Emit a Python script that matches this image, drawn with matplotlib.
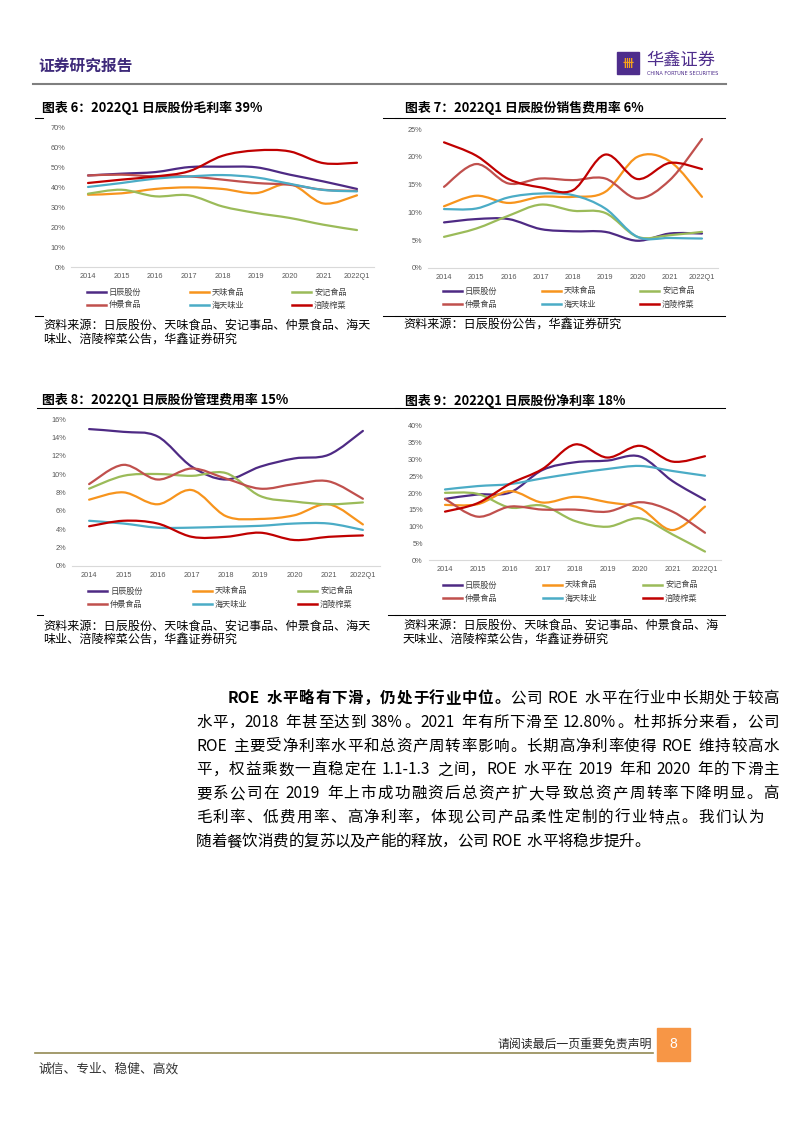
import matplotlib
matplotlib.use('Agg')
import matplotlib.pyplot as plt
from matplotlib.path import Path
from matplotlib.patches import PathPatch, Rectangle
from matplotlib.lines import Line2D
from matplotlib.ticker import FuncFormatter, MultipleLocator

plt.rcParams['font.family'] = ['Noto Sans CJK SC', 'DejaVu Sans']

# ---- data (percent) ----
years = ['2014', '2015', '2016', '2017', '2018', '2019', '2020', '2021', '2022Q1']
companies = ['日辰股份', '天味食品', '安记食品', '仲景食品', '海天味业', '涪陵榨菜']

# 毛利率
gm_richen = [46.1, 47.0, 47.8, 50.3, 50.5, 50.2, 46.5, 43.1, 39.3]
gm_tianwei = [36.4, 37.1, 39.3, 40.1, 39.3, 37.2, 41.8, 32.0, 36.1]
gm_anji = [36.9, 38.9, 35.6, 36.1, 30.5, 27.2, 24.7, 21.3, 18.6]
gm_zhongjing = [46.1, 46.5, 45.6, 45.6, 44.0, 42.3, 41.4, 38.9, 38.3]
gm_haitian = [40.3, 42.3, 44.5, 45.6, 46.3, 45.1, 41.9, 38.8, 38.1]
gm_fuling = [42.3, 44.0, 45.6, 48.2, 56.0, 58.7, 58.2, 52.3, 52.5]

# 销售费用率
se_richen = [8.2, 8.8, 8.8, 7.0, 6.6, 6.5, 4.9, 6.2, 6.2]
se_tianwei = [11.1, 13.0, 11.7, 12.8, 12.8, 13.7, 20.0, 19.2, 12.8]
se_anji = [5.6, 7.1, 9.4, 11.4, 10.3, 9.9, 5.6, 5.9, 6.5]
se_zhongjing = [14.6, 18.7, 15.2, 16.1, 15.8, 16.1, 12.5, 15.8, 23.2]
se_haitian = [10.6, 10.7, 12.7, 13.4, 13.1, 10.7, 5.6, 5.4, 5.3]
se_fuling = [22.6, 20.2, 16.0, 14.5, 14.0, 20.4, 16.0, 18.9, 17.8]

# 管理费用率
ad_richen = [14.9, 14.6, 14.1, 10.8, 9.4, 10.8, 11.7, 12.1, 14.7]
ad_tianwei = [7.2, 8.0, 6.7, 8.25, 5.4, 5.1, 5.5, 6.7, 4.5]
ad_anji = [8.4, 9.8, 10.0, 9.8, 10.1, 7.6, 7.0, 6.7, 6.9]
ad_zhongjing = [8.9, 11.0, 9.4, 10.6, 9.5, 8.4, 8.9, 9.2, 7.3]
ad_haitian = [4.9, 4.6, 4.15, 4.15, 4.25, 4.35, 4.6, 4.6, 3.9]
ad_fuling = [4.3, 4.9, 4.6, 3.15, 3.15, 3.6, 2.8, 3.15, 3.3]

# 净利率
np_richen = [18.3, 19.6, 20.2, 26.9, 29.2, 29.7, 30.9, 23.6, 18.0]
np_tianwei = [16.5, 16.7, 20.6, 17.2, 18.9, 17.3, 15.5, 9.0, 16.0]
np_anji = [20.1, 19.8, 15.7, 16.3, 11.7, 10.0, 12.5, 7.7, 2.6]
np_zhongjing = [18.3, 13.0, 16.0, 15.1, 15.1, 14.5, 17.3, 14.5, 8.2]
np_haitian = [21.1, 22.1, 22.7, 24.4, 25.9, 27.2, 28.1, 26.6, 25.2]
np_fuling = [14.5, 17.0, 22.8, 27.2, 34.5, 30.6, 34.1, 29.4, 31.0]

colors = ['#4E2A84', '#F7941D', '#9BBB59', '#C0504D', '#4BACC6', '#C00000']

W, H = 793, 1122
fig = plt.figure(figsize=(W / 100, H / 100), dpi=100)


def fx(x):
    return x / W


def fy(y):
    return 1 - y / H


def hline(x0, x1, y, color='black', lw=0.75):
    fig.add_artist(Line2D([fx(x0), fx(x1)], [fy(y), fy(y)], color=color, lw=lw))


def smooth_path(xs, ys):
    # excel-like smoothed line: catmull-rom as cubic bezier
    n = len(xs)
    verts = [(xs[0], ys[0])]
    codes = [Path.MOVETO]
    for i in range(n - 1):
        a = i - 1 if i > 0 else i
        d = i + 2 if i + 2 < n else i + 1
        c1 = (xs[i] + (xs[i + 1] - xs[a]) / 6, ys[i] + (ys[i + 1] - ys[a]) / 6)
        c2 = (xs[i + 1] - (xs[d] - xs[i]) / 6, ys[i + 1] - (ys[d] - ys[i]) / 6)
        verts += [c1, c2, (xs[i + 1], ys[i + 1])]
        codes += [Path.CURVE4] * 3
    return Path(verts, codes)


def draw_chart(box, ymax, ystep, series, leg_y, leg_x):
    x0, x1, ytop, ybot = box
    ax = fig.add_axes([fx(x0), fy(ybot), (x1 - x0) / W, (ybot - ytop) / H])
    ax.set_xlim(-0.5, len(years) - 0.5)
    ax.set_ylim(0, ymax)
    for vals, c in zip(series, colors):
        xs = list(range(len(vals)))
        ys = [v / 100 for v in vals]
        ax.add_patch(PathPatch(smooth_path(xs, ys), fill=False, edgecolor=c,
                               lw=1.6, capstyle='round', joinstyle='round',
                               clip_on=False))
    ax.set_xticks(range(len(years)), years)
    ax.yaxis.set_major_locator(MultipleLocator(ystep))
    ax.yaxis.set_major_formatter(FuncFormatter(lambda v, p: f'{v * 100:.0f}%'))
    ax.tick_params(length=0, labelsize=5.3, labelcolor='#595959')
    ax.tick_params(axis='x', pad=4.3)
    ax.tick_params(axis='y', pad=4.3)
    for lab in ax.get_xticklabels() + ax.get_yticklabels():
        lab.set_family(['Liberation Sans', 'DejaVu Sans'])
    for s in ['top', 'right', 'left']:
        ax.spines[s].set_visible(False)
    ax.spines['bottom'].set_color('#D9D9D9')
    ax.spines['bottom'].set_linewidth(0.8)
    ax.patch.set_alpha(0)
    # legend, 3 per row
    for k, name in enumerate(companies):
        yy = leg_y[k // 3]
        xx = leg_x[k % 3]
        fig.add_artist(Line2D([fx(xx), fx(xx + 19)], [fy(yy), fy(yy)],
                              color=colors[k], lw=1.8))
        fig.text(fx(xx + 22), fy(yy), name, fontsize=5.9, color='#404040',
                 va='center', ha='left')


# ---- header ----
fig.text(fx(38), fy(66), '证券研究报告', fontsize=11.3, fontweight='bold',
         color='#3E2A7A', va='center')
fig.add_artist(Rectangle((fx(617), fy(74)), 22 / W, 22 / H, color='#4E2D8C',
                         transform=fig.transFigure))
fig.text(fx(628), fy(63), '卌', fontsize=8, color='#F7A21B', fontweight='bold',
         ha='center', va='center')
fig.text(fx(646), fy(60), '华鑫证券', fontsize=12.4, color='#4E2D8C', va='center')
fig.text(fx(647), fy(73.5), 'CHINA FORTUNE SECURITIES', fontsize=3.6,
         color='#4E2D8C', va='center', family=['Liberation Sans Narrow', 'DejaVu Sans'])
hline(33, 726, 83.5, color='#7F7F7F', lw=1.5)

# ---- chart titles / rules / sources ----
title_kw = dict(fontsize=9.3, fontweight='bold', va='center', color='black')
fig.text(fx(42), fy(108), '图表 6：2022Q1 日辰股份毛利率 39%', **title_kw)
fig.text(fx(405), fy(108), '图表 7：2022Q1 日辰股份销售费用率 6%', **title_kw)
fig.text(fx(42), fy(400), '图表 8：2022Q1 日辰股份管理费用率 15%', **title_kw)
fig.text(fx(405), fy(401), '图表 9：2022Q1 日辰股份净利率 18%', **title_kw)

hline(35, 43, 118)
hline(383, 400, 118)
hline(35, 43, 316)
hline(383, 400, 316)
hline(395, 725, 118)
hline(395, 725, 316)
hline(37, 400, 408)
hline(37, 43, 615)
hline(388, 400, 615)
hline(395, 725, 408)
hline(395, 725, 615)

src_kw = dict(fontsize=8.7, va='center', color='black')
fig.text(fx(43), fy(325), '资料来源：日辰股份、天味食品、安记事品、仲景食品、海天', **src_kw)
fig.text(fx(43), fy(340), '味业、涪陵榨菜公告，华鑫证券研究', **src_kw)
fig.text(fx(403), fy(325), '资料来源：日辰股份公告，华鑫证券研究', **src_kw)
fig.text(fx(43), fy(626), '资料来源：日辰股份、天味食品、安记事品、仲景食品、海天', **src_kw)
fig.text(fx(43), fy(640), '味业、涪陵榨菜公告，华鑫证券研究', **src_kw)
fig.text(fx(403), fy(625), '资料来源：日辰股份、天味食品、安记事品、仲景食品、海', **src_kw)
fig.text(fx(403), fy(640), '天味业、涪陵榨菜公告，华鑫证券研究', **src_kw)

# ---- charts ----
draw_chart((71.2, 373.8, 128, 267), 0.70, 0.10,
           [gm_richen, gm_tianwei, gm_anji, gm_zhongjing, gm_haitian, gm_fuling],
           [292, 305], [87, 190, 292])
draw_chart((427.9, 718.1, 129, 268), 0.25, 0.05,
           [se_richen, se_tianwei, se_anji, se_zhongjing, se_haitian, se_fuling],
           [291, 304], [443, 542, 640])
draw_chart((72, 380, 419, 565.7), 0.16, 0.02,
           [ad_richen, ad_tianwei, ad_anji, ad_zhongjing, ad_haitian, ad_fuling],
           [591, 604], [88, 193, 298])
draw_chart((428.75, 721.25, 426, 560.3), 0.40, 0.05,
           [np_richen, np_tianwei, np_anji, np_zhongjing, np_haitian, np_fuling],
           [585, 598], [443, 543, 643])

# ---- body text (justified by hand) ----
body_lines = [
    [('ROE 水平略有下滑，仍处于行业中位。', 'bold'), ('公司 ROE 水平在行业中长期处于较高', 'normal')],
    [('水平，2018 年甚至达到 38%。2021 年有所下滑至 12.80%。杜邦拆分来看，公司', 'normal')],
    [('ROE 主要受净利率水平和总资产周转率影响。长期高净利率使得 ROE 维持较高水', 'normal')],
    [('平，权益乘数一直稳定在 1.1-1.3 之间，ROE 水平在 2019 年和 2020 年的下滑主', 'normal')],
    [('要系公司在 2019 年上市成功融资后总资产扩大导致总资产周转率下降明显。高', 'normal')],
    [('毛利率、低费用率、高净利率，体现公司产品柔性定制的行业特点。我们认为', 'normal')],
    [('随着餐饮消费的复苏以及产能的释放，公司 ROE 水平将稳步提升。', 'normal')],
]
body_fs = 11.2
em = body_fs * 100 / 72
renderer = fig.canvas.get_renderer()


def units_of(segments):
    units = []
    for text, weight in segments:
        buf = ''
        for ch in text:
            if ch == ' ':
                if buf:
                    units.append((buf, weight))
                    buf = ''
                units.append((None, weight))
            elif ord(ch) < 128:
                buf += ch
            else:
                if buf:
                    units.append((buf, weight))
                    buf = ''
                units.append((ch, weight))
        if buf:
            units.append((buf, weight))
    return units


def unit_width(u):
    text, weight = u
    if text is None:
        return em * 0.25
    if ord(text[0]) >= 128:
        return em
    t = fig.text(0, 0, text, fontsize=body_fs, fontweight=weight)
    w = t.get_window_extent(renderer).width
    t.remove()
    return w + em * 0.06


for i, segs in enumerate(body_lines):
    yc = 697 + 23.8 * i
    x_left = 228 if i == 0 else 196
    x_right = 779 if i < 5 else 764
    units = units_of(segs)
    widths = [unit_width(u) for u in units]
    if i < 6:
        gap = (x_right - x_left - sum(widths)) / (len(units) - 1)
    else:
        gap = -0.2
    x = x_left
    for u, w in zip(units, widths):
        if u[0] is not None:
            fig.text(fx(x), fy(yc + 0.38 * em), u[0], fontsize=body_fs,
                     fontweight=u[1], va='baseline', ha='left', color='black')
        x += w + gap

# ---- footer ----
fig.text(fx(652), fy(1044), '请阅读最后一页重要免责声明', fontsize=8.6,
         color='#262626', ha='right', va='center')
fig.add_artist(Rectangle((fx(657), fy(1061)), 33 / W, 33 / H, color='#F79646',
                         transform=fig.transFigure))
fig.text(fx(673.5), fy(1044.5), '8', fontsize=10, color='white', ha='center',
         va='center', family=['Liberation Sans', 'DejaVu Sans'])
hline(35, 653, 1053, color='#948A54', lw=1.2)
fig.text(fx(38), fy(1069), '诚信、专业、稳健、高效', fontsize=9.2, color='#333333',
         va='center')

fig.savefig('out.png', dpi=100)
